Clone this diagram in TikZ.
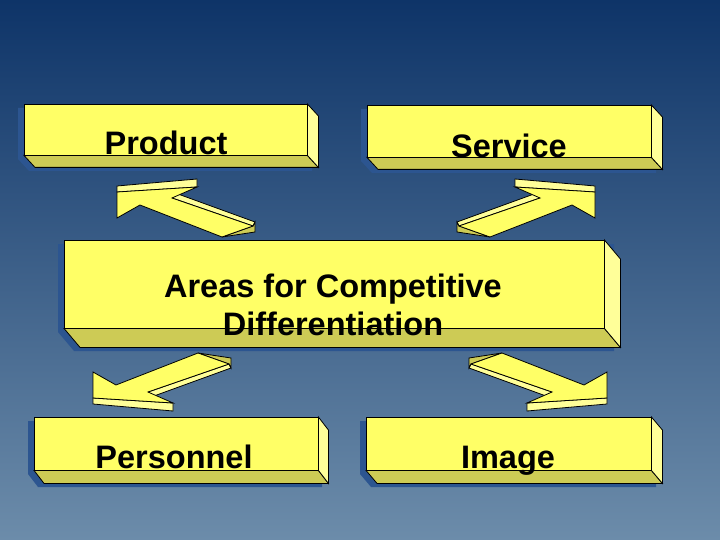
\documentclass[tikz,border=0pt]{standalone}
\usepackage{fontspec}
\setmainfont{Liberation Sans}
\usetikzlibrary{calc}
\begin{document}
\begin{tikzpicture}[x=1pt,y=-1pt,
  front/.style={fill=yfront,draw=black,line width=0.8pt},
  bot/.style={fill=ybot,draw=black,line width=0.8pt},
  side/.style={fill=yside,draw=black,line width=0.8pt},
  shad/.style={fill=shadblue},
  lbl/.style={font=\bfseries\fontsize{32.5}{36}\selectfont,anchor=base},
  boxn/.style={inner sep=0pt,draw=none}]
\definecolor{yfront}{HTML}{FFFF66}
\definecolor{ybot}{HTML}{CDCB55}
\definecolor{yside}{HTML}{FFFF99}
\definecolor{shadblue}{HTML}{2C5590}
\definecolor{bgtop}{HTML}{0E3468}
\definecolor{bgbot}{HTML}{6C8CAA}
\shade[top color=bgtop,bottom color=bgbot] (0,0) rectangle (720,540);
\useasboundingbox (0,0) rectangle (720,540);
\newcommand\tdbox[7]{%
  \fill[shad] (#2-6,#3+4) -- (#4-6+#6,#3+4) -- (#4-6+#6,#5+4+#7) -- (#2-6+#6,#5+4+#7) -- (#2-6,#5+4) -- cycle;
  \node[boxn,minimum width=#4-#2,minimum height=#5-#3,anchor=north west] (#1) at (#2,#3) {};
  \draw[bot] (#1.south west) -- ++(#6,#7) -- ($(#1.south east)+(#6,#7)$) -- (#1.south east) -- cycle;
  \draw[side] (#1.north east) -- ++(#6,#7) -- ($(#1.south east)+(#6,#7)$) -- (#1.south east) -- cycle;
  \draw[front] (#1.north west) rectangle (#1.south east);}
\newcommand\blockarrow{%
  \draw[side] (117,186) -- (197,179) -- (197,187) -- (117,192) -- cycle;
  \draw[side] (172,198) -- (178,194) -- (255,222) -- (253,226) -- cycle;
  \draw[bot] (253,226) -- (255,222) -- (255,232) -- (222,237) -- cycle;
  \draw[front] (117,192) -- (197,187) -- (172,198) -- (253,226) -- (222,237) -- (140,205) -- (117,218) -- cycle;}
\tdbox{product}{24}{104}{307}{155}{11}{12}
\tdbox{service}{367}{105}{651}{157}{11}{12}
\tdbox{areas}{64}{240}{604}{328}{16}{19}
\tdbox{personnel}{34}{417}{318}{470}{10}{13}
\tdbox{image}{366}{417}{651}{470}{11}{13}
\node[lbl] (tp) at (166,155) {Product};
\node[lbl] (ts) at (509,158) {Service};
\node[lbl] (ta1) at (333,297) {Areas for Competitive};
\node[lbl] (ta2) at (333,335) {Differentiation};
\node[lbl] (tpe) at (174,468) {Personnel};
\node[lbl] (ti) at (508,468) {Image};
\blockarrow
\begin{scope}[xshift=712,xscale=-1]\blockarrow\end{scope}
\begin{scope}[xshift=-24,yshift=-590,yscale=-1]\blockarrow\end{scope}
\begin{scope}[xshift=724,yshift=-590,xscale=-1,yscale=-1]\blockarrow\end{scope}
\end{tikzpicture}
\end{document}
